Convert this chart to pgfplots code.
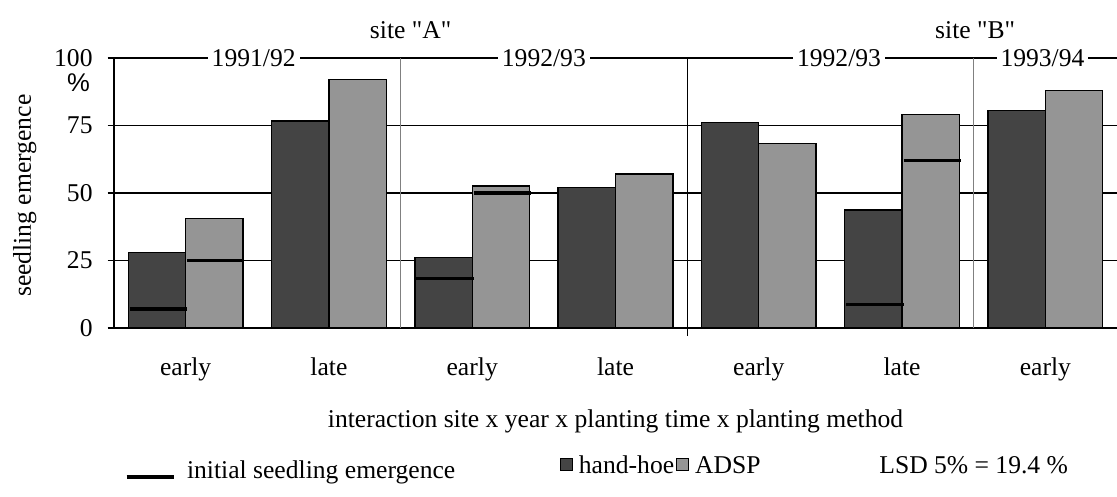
\documentclass[border=0pt]{standalone}
\usepackage{fontspec}
\setmainfont{Liberation Serif}[Ligatures=TeXOff]
\newfontfamily\arialfont{Liberation Sans}
\usepackage{pgfplots}
\pgfplotsset{compat=1.18}
\definecolor{hhfill}{HTML}{444444}
\definecolor{adspfill}{HTML}{959595}
\definecolor{sepgray}{HTML}{808080}

\begin{document}
\begin{tikzpicture}
\fontsize{12.8}{15}\selectfont
\begin{axis}[
  scale only axis,
  width=501.5pt, height=135pt,
  xmin=-0.5, xmax=6.5, ymin=0, ymax=100,
  clip=false,
  axis x line=bottom, axis y line=left,
  axis line style={-, black, line width=0.6pt},
  ytick={0,25,50,75,100},
  ymajorgrids, grid style={black, line width=0.6pt},
  tick align=center, major tick length=6.5pt,
  tick style={black, line width=0.6pt},
  xtick={0,...,6},
  xticklabels={early,late,early,late,early,late,early},
  xtick style={draw=none},
  xticklabel style={yshift=-7pt},
  yticklabel style={xshift=-3pt},
  /pgf/number format/assume math mode=true,
  xlabel={interaction site x year x planting time x planting method},
  xlabel style={at={(axis description cs:0.5,-0.347)}, anchor=center},
  ylabel={seedling emergence},
  ylabel style={at={(axis description cs:-0.089,0.49)}, anchor=center},
]
\coordinate (O) at (rel axis cs:0,0);

% hand-hoe
\addplot[ybar, bar width=0.4, bar shift=-0.2, fill=hhfill, draw=black, line width=0.7pt]
  coordinates {(0,28) (1,76.7) (2,26) (3,52) (4,76) (5,43.7) (6,80.5)};
% ADSP
\addplot[ybar, bar width=0.4, bar shift=0.2, fill=adspfill, draw=black, line width=0.7pt]
  coordinates {(0,40.5) (1,92) (2,52.6) (3,57) (4,68.4) (5,79.1) (6,88)};

% initial seedling emergence
\addplot[black, line width=1.6pt, unbounded coords=jump]
  coordinates {(-0.39,7) (0.01,7) (0.01,nan)
               (0.01,25) (0.41,25) (0.41,nan)
               (1.61,18.3) (2.01,18.3) (2.01,nan)
               (2.01,50) (2.41,50) (2.41,nan)
               (4.61,8.8) (5.01,8.8) (5.01,nan)
               (5.01,62) (5.41,62)};

% separators
\draw[sepgray, line width=0.6pt] (axis cs:1.5,0) -- (axis cs:1.5,100);
\draw[black, line width=0.6pt] (axis cs:3.5,-3) -- (axis cs:3.5,100);
\draw[sepgray, line width=0.6pt] (axis cs:5.5,0) -- (axis cs:5.5,100);

% year and site labels
\node[fill=white, inner sep=2pt] at (axis cs:0.475,100) {1991/92};
\node[fill=white, inner sep=2pt] at (axis cs:2.5,100) {1992/93};
\node[fill=white, inner sep=2pt] at (axis cs:4.56,100) {1992/93};
\node[fill=white, inner sep=2pt] at (axis cs:5.98,100) {1993/94};
\node at (axis cs:1.57,110.4) {site "A"};
\node at (axis cs:5.51,110.4) {site "B"};
\node at (axis cs:-0.747,90.7) {\arialfont\%};

% legend
\draw[black, line width=1.6pt] (axis cs:-0.412,-55.2) -- (axis cs:-0.084,-55.2);
\node[anchor=west, inner sep=0pt] at (axis cs:0.007,-53.3) {initial seedling emergence};
\node[draw=black, fill=hhfill, minimum size=6pt, inner sep=0pt, line width=0.5pt] at (axis cs:2.659,-50.7) {};
\node[anchor=west, inner sep=0pt] at (axis cs:2.742,-50.7) {hand-hoe};
\node[draw=black, fill=adspfill, minimum size=6pt, inner sep=0pt, line width=0.5pt] at (axis cs:3.47,-50.7) {};
\node[anchor=west, inner sep=0pt] at (axis cs:3.553,-50.7) {ADSP};
\node at (axis cs:5.5,-50.7) {LSD 5\% = 19.4 \%};
\end{axis}
\pgfresetboundingbox
\path[use as bounding box] ([shift={(-57pt,-84.5pt)}]O) rectangle ([shift={(501.5pt,164pt)}]O);
\end{tikzpicture}
\end{document}
